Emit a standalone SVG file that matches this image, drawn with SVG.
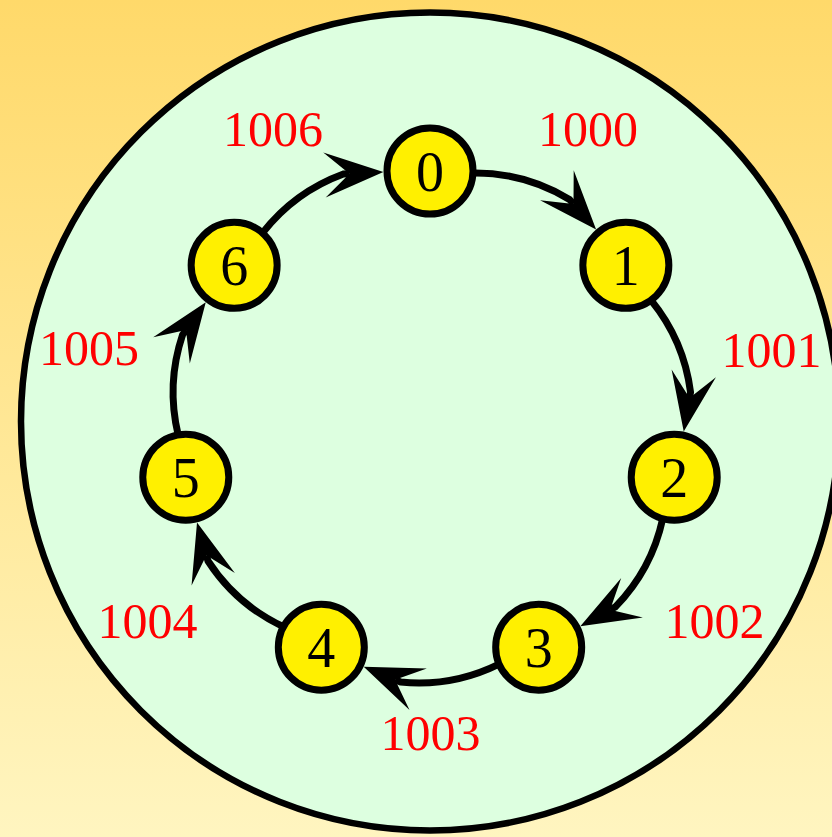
<svg xmlns="http://www.w3.org/2000/svg" width="832" height="837" viewBox="0 0 832 837">
  <defs>
    <linearGradient id="bg" x1="0" y1="0" x2="0" y2="1">
      <stop offset="0" stop-color="#FFD96A"/>
      <stop offset="1" stop-color="#FFF5C0"/>
    </linearGradient>
    <marker id="ah" markerUnits="userSpaceOnUse" orient="auto" refX="0" refY="0" viewBox="-30 -25 66 50" markerWidth="66" markerHeight="50" overflow="visible">
      <path d="M34,0 L-25,-22.5 L0,0 L-25,22.5 Z" fill="#000"/>
    </marker>
    <style>
      .edge { fill: none; stroke: #000; stroke-width: 7; marker-end: url(#ah); }
      .node circle { fill: #FFF000; stroke: #000; stroke-width: 7; }
      .node text { font-family: "Liberation Serif", "DejaVu Serif", serif; font-size: 56px; text-anchor: middle; fill: #000; }
      .lbl { font-family: "Liberation Serif", "DejaVu Serif", serif; font-size: 50px; text-anchor: middle; fill: #FF0000; }
    </style>
  </defs>
  <rect x="0" y="0" width="832" height="837" fill="url(#bg)"/>
  <circle id="ring" cx="430" cy="421.5" r="409" fill="#DDFFE0" stroke="#000" stroke-width="6.5"/>

  <g id="connectors">
    <path class="edge" d="M473,173 A182,182 0 0 1 569.5,199.5 L573.5,204"/>
    <path class="edge" d="M473,173 A182,182 0 0 1 569.5,199.5 L573.5,204" transform="rotate(51.428571 430 421.5)"/>
    <path class="edge" d="M473,173 A182,182 0 0 1 569.5,199.5 L573.5,204" transform="rotate(102.857143 430 421.5)"/>
    <path class="edge" d="M473,173 A182,182 0 0 1 569.5,199.5 L573.5,204" transform="rotate(154.285714 430 421.5)"/>
    <path class="edge" d="M473,173 A182,182 0 0 1 569.5,199.5 L573.5,204" transform="rotate(205.714286 430 421.5)"/>
    <path class="edge" d="M473,173 A182,182 0 0 1 569.5,199.5 L573.5,204" transform="rotate(257.142857 430 421.5)"/>
    <path class="edge" d="M473,173 A182,182 0 0 1 569.5,199.5 L573.5,204" transform="rotate(308.571429 430 421.5)"/>
  </g>

  <g id="labels">
    <text class="lbl" x="588" y="145.5">1000</text>
    <text class="lbl" x="771.5" y="367">1001</text>
    <text class="lbl" x="714.5" y="638">1002</text>
    <text class="lbl" x="430.5" y="749.5">1003</text>
    <text class="lbl" x="147.5" y="638">1004</text>
    <text class="lbl" x="89" y="364.5">1005</text>
    <text class="lbl" x="273" y="145.5">1006</text>
  </g>

  <g id="n0" class="node"><circle cx="430" cy="171" r="43"/><text x="430" y="190.5">0</text></g>
  <g id="n1" class="node"><circle cx="625.85" cy="265.32" r="43"/><text x="625.85" y="284.8">1</text></g>
  <g id="n2" class="node"><circle cx="674.22" cy="477.24" r="43"/><text x="674.22" y="496.7">2</text></g>
  <g id="n3" class="node"><circle cx="538.69" cy="647.19" r="43"/><text x="538.69" y="666.7">3</text></g>
  <g id="n4" class="node"><circle cx="321.31" cy="647.19" r="43"/><text x="321.31" y="666.7">4</text></g>
  <g id="n5" class="node"><circle cx="185.78" cy="477.24" r="43"/><text x="185.78" y="496.7">5</text></g>
  <g id="n6" class="node"><circle cx="234.15" cy="265.32" r="43"/><text x="234.15" y="284.8">6</text></g>
</svg>
